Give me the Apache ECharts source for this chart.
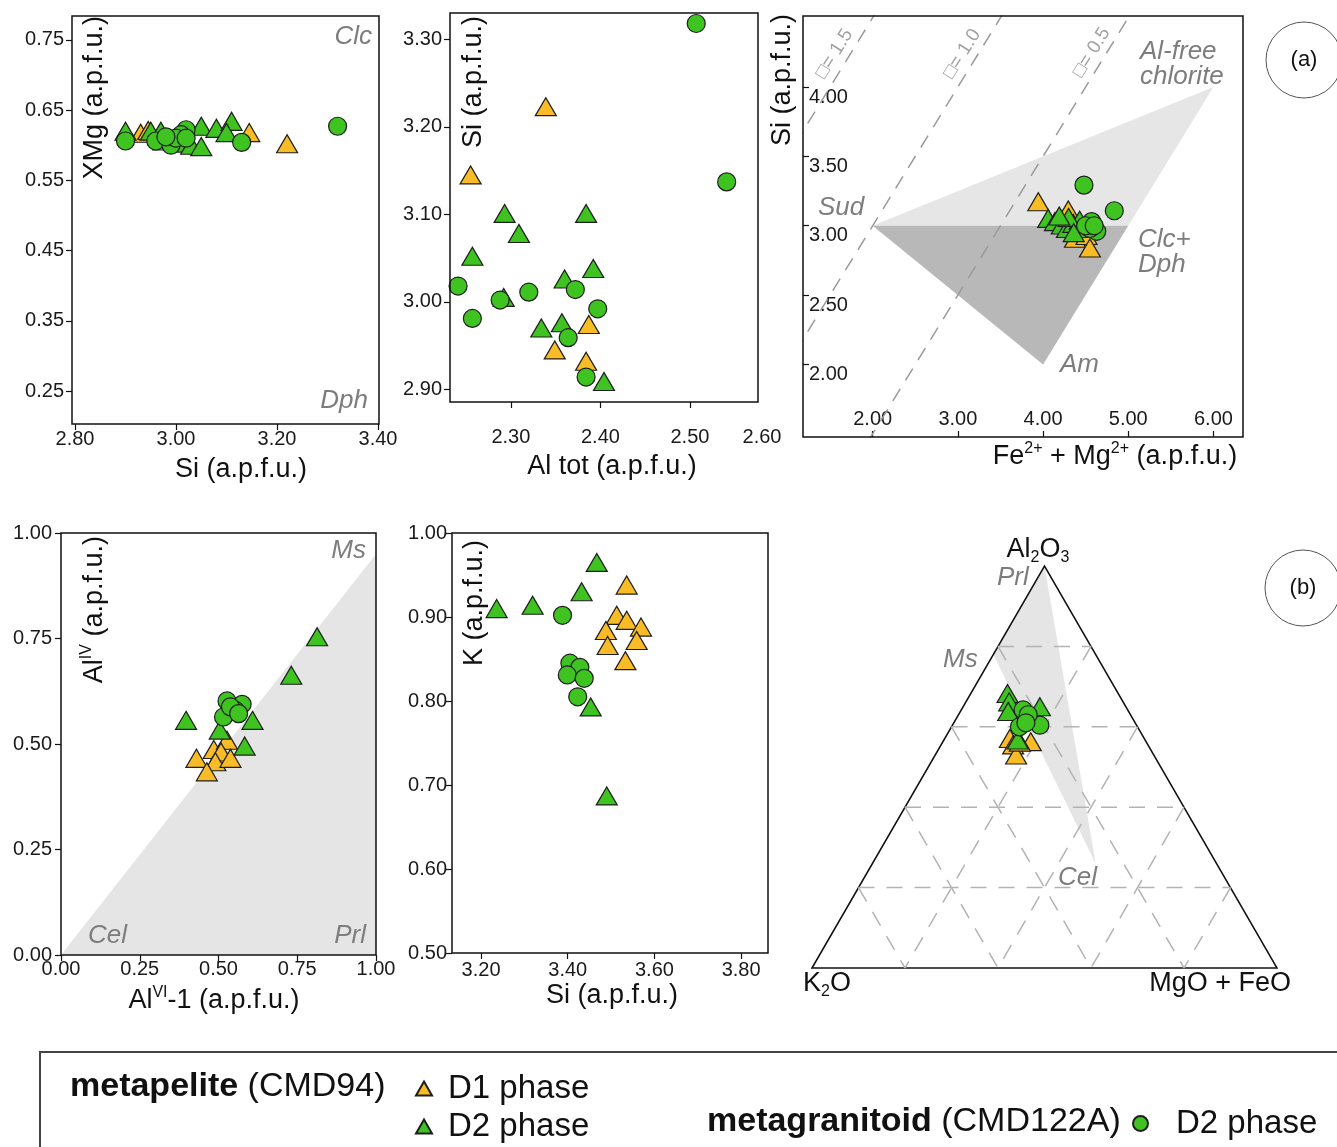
<!DOCTYPE html>
<html><head><meta charset="utf-8">
<script src="https://cdn.jsdelivr.net/npm/echarts@6/dist/echarts.min.js"></script>
<style>html,body{margin:0;padding:0;background:#fff}#c{width:1337px;height:1147px}</style>
</head><body><div id="c"></div>
<script>
const FONT = '"Liberation Sans", Arial, Helvetica, sans-serif';
const ORANGE = '#f9bc26', GREEN = '#3ec320', EDGE = '#1e1e1e', ANN = '#7d7d7d';

// ---------- Panel a1: chlorite XMg vs Si ----------
const p1TicksX = [2.8, 3.0, 3.2, 3.4];
const p1TicksY = [0.25, 0.35, 0.45, 0.55, 0.65, 0.75];
const p1MetapeliteD1 = [[2.93,0.617],[2.945,0.621],[2.975,0.606],[3.145,0.618],[3.22,0.602]];
const p1MetapeliteD2 = [[2.90,0.620],[2.95,0.620],[2.97,0.620],[3.01,0.603],[3.03,0.600],[3.05,0.598],[3.05,0.627],[3.08,0.624],[3.11,0.634],[3.10,0.618]];
const p1MetagranitoidD2 = [[2.90,0.606],[2.96,0.606],[2.99,0.600],[3.02,0.622],[3.01,0.615],[3.00,0.610],[2.98,0.612],[3.02,0.610],[3.13,0.604],[3.32,0.627]];

// ---------- Panel a2: chlorite Si vs Al tot ----------
const p2TicksX = [2.3, 2.4, 2.5];
const p2TicksY = [2.9, 3.0, 3.1, 3.2, 3.3];
const p2MetapeliteD1 = [[2.339,3.223],[2.255,3.145],[2.387,2.974],[2.349,2.945],[2.384,2.932]];
const p2MetapeliteD2 = [[2.293,3.101],[2.384,3.101],[2.309,3.078],[2.257,3.052],[2.392,3.038],[2.360,3.026],[2.292,3.005],[2.334,2.970],[2.357,2.976],[2.404,2.909]];
const p2MetagranitoidD2 = [[2.507,3.318],[2.541,3.137],[2.241,3.018],[2.372,3.014],[2.288,3.002],[2.320,3.011],[2.257,2.981],[2.397,2.992],[2.364,2.959],[2.384,2.914]];

// ---------- Panel a3: chlorite Si vs Fe2+ + Mg2+ ----------
const p3TicksX = [2, 3, 4, 5, 6];
const p3TicksY = [2.0, 2.5, 3.0, 3.5, 4.0];
const p3MetapeliteD1 = [[3.944,3.173],[4.296,3.113],[4.375,2.910],[4.51,2.930],[4.55,2.840]];
const p3MetapeliteD2 = [[4.06,3.053],[4.14,3.030],[4.22,3.005],[4.28,2.980],[4.355,3.017],[4.43,3.040],[4.47,2.980],[4.30,3.060],[4.19,3.070],[4.36,2.950]];
const p3MetagranitoidD2 = [[4.48,3.293],[4.836,3.108],[4.57,3.030],[4.63,2.960],[4.55,2.980],[4.50,3.000],[4.60,3.000]];
const p3LightField = [[2,3],[6,4],[5,3]];
const p3DarkField = [[2,3],[5,3],[4,2]];
const p3VacancyLines = [
  [[0.5,3.0],[2.5,5.0]],   // □ = 1.5
  [[0.5,1.5],[4.0,5.0]],   // □ = 1.0
  [[1.5,1.0],[5.5,5.0]]    // □ = 0.5
];
const p3VacancyLabels = [
  {text:'□= 1.5', x:1.55, y:4.24},
  {text:'□= 1.0', x:3.05, y:4.24},
  {text:'□= 0.5', x:4.57, y:4.25}
];

// ---------- Panel b1: white mica AlIV vs AlVI-1 ----------
const p4Ticks = [0, 0.25, 0.5, 0.75, 1.0];
const p4MetapeliteD1 = [[0.43,0.466],[0.485,0.487],[0.527,0.509],[0.508,0.481],[0.49,0.458],[0.538,0.466],[0.463,0.434]];
const p4MetapeliteD2 = [[0.813,0.754],[0.731,0.663],[0.397,0.556],[0.608,0.556],[0.504,0.533],[0.583,0.495]];
const p4MetagranitoidD2 = [[0.527,0.602],[0.575,0.594],[0.553,0.580],[0.516,0.564],[0.538,0.588],[0.564,0.572]];
const p4Field = [[0,0],[1,0.95],[1,0]];

// ---------- Panel b2: white mica K vs Si ----------
const p5TicksX = [3.2, 3.4, 3.6, 3.8];
const p5TicksY = [0.5, 0.6, 0.7, 0.8, 0.9, 1.0];
const p5MetapeliteD1 = [[3.536,0.938],[3.513,0.902],[3.536,0.896],[3.488,0.884],[3.569,0.888],[3.492,0.866],[3.559,0.872],[3.533,0.848]];
const p5MetapeliteD2 = [[3.236,0.910],[3.319,0.914],[3.432,0.930],[3.467,0.965],[3.453,0.793],[3.49,0.687]];
const p5MetagranitoidD2 = [[3.388,0.902],[3.405,0.845],[3.428,0.840],[3.399,0.831],[3.438,0.827],[3.423,0.805]];

// ---------- Panel b3: ternary K2O - Al2O3 - (MgO+FeO) ----------
// [K2O, Al2O3, MgO+FeO]
const p6MetapeliteD1 = [[0.289,0.571,0.140],[0.248,0.563,0.189],[0.290,0.555,0.155],[0.296,0.530,0.174],[0.272,0.562,0.166]];
const p6MetapeliteD2 = [[0.238,0.683,0.079],[0.245,0.662,0.093],[0.259,0.638,0.103],[0.185,0.650,0.165],[0.214,0.617,0.169],[0.274,0.567,0.159]];
const p6MetagranitoidD2 = [[0.225,0.642,0.133],[0.226,0.617,0.157],[0.208,0.604,0.188],[0.254,0.600,0.146],[0.220,0.630,0.150],[0.235,0.610,0.155]];
const p6Field = [[0,1,0],[0.22,0.78,0],[0.26,0.26,0.48]];
const p6GridLevels = [0.2, 0.4, 0.6, 0.8];

// ---------- helpers ----------
function tern(p){ const s = p[0]+p[1]+p[2]; const a = p[1]/s, b = p[2]/s; return [b + a/2, a]; }

const axesCfg = [
  {x:{min:2.794,max:3.402,ticks:p1TicksX,margin:5}, y:{min:0.203,max:0.784,ticks:p1TicksY,margin:8}},
  {x:{min:2.232,max:2.576,ticks:p2TicksX,margin:25}, y:{min:2.8855,max:3.330,ticks:p2TicksY,margin:8}},
  {x:{min:1.182,max:6.347,ticks:p3TicksX,margin:8,inside:true}, y:{min:1.477,max:4.512,ticks:p3TicksY,margin:6,inside:true}},
  {x:{min:0,max:1,ticks:p4Ticks,margin:4}, y:{min:0,max:1,ticks:p4Ticks,margin:9}},
  {x:{min:3.133,max:3.862,ticks:p5TicksX,margin:7}, y:{min:0.5,max:1.0,ticks:p5TicksY,margin:5}}
];
const grids = [
  {left:72, top:16, width:307, height:408},
  {left:450, top:13, width:308, height:389},
  {left:803, top:16, width:440, height:421},
  {left:61, top:533, width:315, height:422},
  {left:452, top:533, width:316, height:420},
  {left:812, top:566, width:465, height:402}
].map(g => Object.assign({show:false, containLabel:false, outerBoundsMode:'none'}, g));

function mkAxis(idx, c, isY){
  const lab = {show:true, inside:!!c.inside, customValues:c.ticks, formatter:v=>v.toFixed(2),
    fontSize:20, fontFamily:FONT, color:'#1a1a1a', margin:c.margin};
  if (isY && c.inside) { lab.verticalAlign = 'top'; lab.align = 'left'; }
  return {type:'value', gridIndex:idx, min:c.min, max:c.max, splitLine:{show:false}, axisLine:{show:false},
    axisTick:{show:true, inside:!!c.inside, length:6, customValues:c.ticks, lineStyle:{color:'#111', width:1.2}},
    axisLabel:lab};
}
const xAxis = axesCfg.map((c,i)=>mkAxis(i,c.x,false));
const yAxis = axesCfg.map((c,i)=>mkAxis(i,c.y,true));
xAxis.push({type:'value', gridIndex:5, min:0, max:1, show:false});
yAxis.push({type:'value', gridIndex:5, min:0, max:1, show:false});

const series = [];
function polygon(idx, pts, fill, stroke){
  series.push({type:'custom', xAxisIndex:idx, yAxisIndex:idx, silent:true, z:1, data:[pts[0]],
    renderItem:(params, api)=>({type:'polygon', shape:{points:pts.map(p=>api.coord(p))},
      style:{fill:fill||'none', stroke:stroke||null, lineWidth:stroke?1.5:0}})});
}
function frame(idx){
  const c = axesCfg[idx];
  series.push({type:'custom', xAxisIndex:idx, yAxisIndex:idx, silent:true, z:10, data:[[c.x.min,c.y.min]],
    renderItem:(params)=>{ const r = params.coordSys; return {type:'rect', shape:{x:r.x,y:r.y,width:r.width,height:r.height},
      style:{fill:'none', stroke:'#111', lineWidth:1.5}}; }});
}
function scatter(idx, name, data, kind){
  series.push({type:'scatter', name, xAxisIndex:idx, yAxisIndex:idx, data,
    symbol: kind==='c' ? 'circle' : 'triangle', symbolSize: kind==='c' ? 18 : [21,18],
    itemStyle:{color: name==='metapelite D1' ? ORANGE : GREEN, borderColor:EDGE, borderWidth:1.2, opacity:1},
    emphasis:{disabled:true}, z:5});
}
function panelPoints(idx, d1, d2, g2){
  scatter(idx,'metapelite D1',d1,'t');
  scatter(idx,'metapelite D2',d2,'t');
  scatter(idx,'metagranitoid D2',g2,'c');
}

// panel 1
panelPoints(0, p1MetapeliteD1, p1MetapeliteD2, p1MetagranitoidD2); frame(0);
// panel 2
panelPoints(1, p2MetapeliteD1, p2MetapeliteD2, p2MetagranitoidD2); frame(1);
// panel 3
polygon(2, p3LightField, '#e6e6e6');
polygon(2, p3DarkField, '#b8b8b8');
p3VacancyLines.forEach(l => series.push({type:'line', xAxisIndex:2, yAxisIndex:2, data:l, symbol:'none', clip:true, silent:true, z:3,
  lineStyle:{type:[14,10], color:'#9a9a9a', width:1.5}}));
series.push({type:'scatter', xAxisIndex:2, yAxisIndex:2, silent:true, z:3, symbolSize:0,
  data:p3VacancyLabels.map(l=>({value:[l.x,l.y], label:{formatter:l.text}})),
  label:{show:true, position:'inside', rotate:58, fontSize:19, fontFamily:FONT, color:'#8a8a8a'}});
panelPoints(2, p3MetapeliteD1, p3MetapeliteD2, p3MetagranitoidD2); frame(2);
// panel 4
polygon(3, p4Field, '#e5e5e5');
panelPoints(3, p4MetapeliteD1, p4MetapeliteD2, p4MetagranitoidD2); frame(3);
// panel 5
panelPoints(4, p5MetapeliteD1, p5MetapeliteD2, p5MetagranitoidD2); frame(4);
// panel 6 (ternary)
polygon(5, p6Field.map(tern), '#e5e5e5');
const ternLines = [];
p6GridLevels.forEach(t => {
  ternLines.push([[1-t,t,0],[0,t,1-t]]);
  ternLines.push([[t,1-t,0],[t,0,1-t]]);
  ternLines.push([[0,1-t,t],[1-t,0,t]]);
});
series.push({type:'custom', xAxisIndex:5, yAxisIndex:5, silent:true, z:2, data:[[0,0]],
  renderItem:(params, api)=>({type:'group', children: ternLines.map(([p,q])=>{
    const a = api.coord(tern(p)), b = api.coord(tern(q));
    return {type:'line', shape:{x1:a[0],y1:a[1],x2:b[0],y2:b[1]}, style:{stroke:'#b3b3b3', lineWidth:1.5, lineDash:[16,12]}};
  })})});
polygon(5, [[1,0,0],[0,1,0],[0,0,1]].map(tern), null, '#111');
panelPoints(5, p6MetapeliteD1.map(tern), p6MetapeliteD2.map(tern), p6MetagranitoidD2.map(tern));

// ---------- text graphics ----------
const RICH = {
  n:{fontSize:27, fontFamily:FONT, fill:'#111', color:'#111', lineHeight:32, verticalAlign:'middle'},
  s:{fontSize:16, fontFamily:FONT, fill:'#111', color:'#111', lineHeight:16, verticalAlign:'top'},
  b:{fontSize:16, fontFamily:FONT, fill:'#111', color:'#111', lineHeight:16, verticalAlign:'bottom'}
};
function title(x, y, text, align, rot){
  return {type:'text', x, y, rotation: rot ? Math.PI/2 : 0, z:20, silent:true,
    style:{text, rich:RICH, font:'27px '+FONT, fill:'#111', align:align||'center', verticalAlign:'middle'}};
}
function ann(x, y, text, align, size){
  return {type:'text', x, y, z:20, silent:true,
    style:{text, font:'italic '+(size||26)+'px '+FONT, fill:ANN, align:align||'left', verticalAlign:'middle'}};
}
const graphic = [
  // y-axis titles
  title(95, 16, '{n|XMg (a.p.f.u.)}', 'right', true),
  title(474, 16, '{n|Si (a.p.f.u.)}', 'right', true),
  title(783, 14, '{n|Si (a.p.f.u.)}', 'right', true),
  title(95, 536, '{n|Al}{s|IV}{n| (a.p.f.u.)}', 'right', true),
  title(475, 540, '{n|K (a.p.f.u.)}', 'right', true),
  // x-axis titles
  title(241, 470, '{n|Si (a.p.f.u.)}'),
  title(612, 467, '{n|Al tot (a.p.f.u.)}'),
  title(1115, 457, '{n|Fe}{s|2+}{n| + Mg}{s|2+}{n| (a.p.f.u.)}'),
  title(214, 1001, '{n|Al}{s|VI}{n|-1 (a.p.f.u.)}'),
  title(612, 996, '{n|Si (a.p.f.u.)}'),
  // ternary apex labels
  title(1038, 550, '{n|Al}{b|2}{n|O}{b|3}'),
  title(803, 984, '{n|K}{b|2}{n|O}', 'left'),
  title(1291, 984, '{n|MgO + FeO}', 'right'),
  // extra tick label on panel a2
  {type:'text', x:762, y:437, silent:true, style:{text:'2.60', font:'20px '+FONT, fill:'#1a1a1a', align:'center', verticalAlign:'middle'}},
  // annotations
  ann(372, 37, 'Clc', 'right'), ann(368, 401, 'Dph', 'right'),
  ann(1140, 52, 'Al-free', 'left'), ann(1140, 77, 'chlorite', 'left'),
  ann(818, 208, 'Sud', 'left'), ann(1138, 240, 'Clc+', 'left'), ann(1138, 265, 'Dph', 'left'),
  ann(1060, 365, 'Am', 'left'),
  ann(366, 551, 'Ms', 'right'), ann(88, 936, 'Cel', 'left'), ann(366, 936, 'Prl', 'right'),
  ann(997, 578, 'Prl', 'left'), ann(943, 660, 'Ms', 'left'), ann(1058, 878, 'Cel', 'left'),
  // circled panel letters
  {type:'circle', shape:{cx:1304, cy:60, r:38}, silent:true, style:{fill:'none', stroke:'#555', lineWidth:1}},
  {type:'text', x:1304, y:60, silent:true, style:{text:'(a)', font:'22px '+FONT, fill:'#111', align:'center', verticalAlign:'middle'}},
  {type:'circle', shape:{cx:1303, cy:588, r:38}, silent:true, style:{fill:'none', stroke:'#555', lineWidth:1}},
  {type:'text', x:1303, y:588, silent:true, style:{text:'(b)', font:'22px '+FONT, fill:'#111', align:'center', verticalAlign:'middle'}},
  // legend frame and group labels
  {type:'rect', shape:{x:40, y:1052, width:1330, height:130}, silent:true, style:{fill:'none', stroke:'#444', lineWidth:2}},
  {type:'text', x:70, y:1087, silent:true, style:{text:'{bb|metapelite} (CMD94)', font:'34px '+FONT, fill:'#111', align:'left', verticalAlign:'middle',
    rich:{bb:{fontWeight:'bold', fontSize:34, fontFamily:FONT, fill:'#111'}}}},
  {type:'text', x:707, y:1122, silent:true, style:{text:'{bb|metagranitoid} (CMD122A)', font:'34px '+FONT, fill:'#111', align:'left', verticalAlign:'middle',
    rich:{bb:{fontWeight:'bold', fontSize:34, fontFamily:FONT, fill:'#111'}}}}
];

const legFmt = n => (n.endsWith('D1') ? 'D1 phase' : 'D2 phase');
const legend = [
  {data:[{name:'metapelite D1', icon:'triangle'},{name:'metapelite D2', icon:'triangle'}], orient:'vertical', left:415, top:1072,
   padding:0, itemWidth:16, itemHeight:14, itemGap:5, selectedMode:false, formatter:legFmt,
   textStyle:{fontSize:33, fontFamily:FONT, color:'#111', lineHeight:30, padding:[0,0,0,11]}},
  {data:[{name:'metagranitoid D2', icon:'circle'}], orient:'vertical', left:1132, top:1107,
   padding:0, itemWidth:15, itemHeight:15, selectedMode:false, formatter:legFmt,
   textStyle:{fontSize:33, fontFamily:FONT, color:'#111', lineHeight:30, padding:[0,0,0,23]}}
];

const chart = echarts.init(document.getElementById('c'), null, {renderer:'canvas'});
chart.setOption({animation:false, backgroundColor:'#fff', grid:grids, xAxis, yAxis, series, graphic, legend});
</script></body></html>
